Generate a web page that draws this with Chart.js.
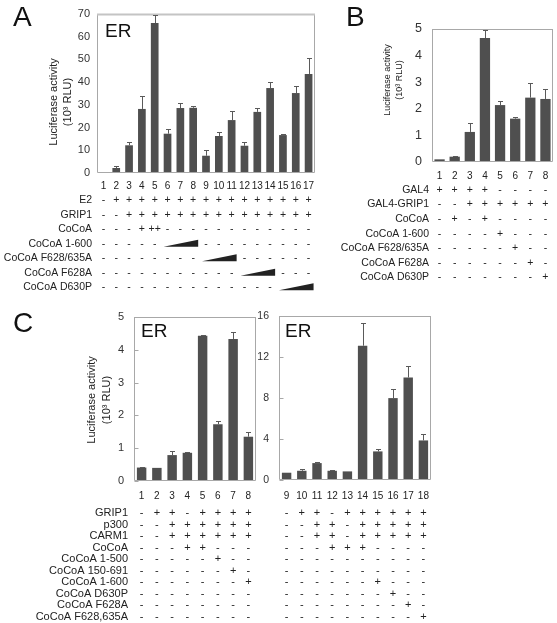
<!DOCTYPE html>
<html><head><meta charset="utf-8">
<script src="https://cdn.jsdelivr.net/npm/chart.js@4.4.1/dist/chart.umd.min.js"></script>
<style>
html,body{margin:0;padding:0;background:#fff;}
#wrap{position:relative;width:557px;height:623px;overflow:hidden;background:#fff;}
canvas{position:absolute;left:0;top:0;width:557px;height:623px;}
</style></head><body>
<div id="wrap">
<canvas id="cA" width="557" height="623"></canvas>
<canvas id="cB" width="557" height="623"></canvas>
<canvas id="cC1" width="557" height="623"></canvas>
<canvas id="cC2" width="557" height="623"></canvas>
</div>
<script>
// ---------- Panel A data ----------
const aCategories = ['1','2','3','4','5','6','7','8','9','10','11','12','13','14','15','16','17'];
const aValues = [0.3, 2.2, 12.2, 28.2, 66.0, 17.3, 28.6, 28.7, 7.6, 16.3, 23.3, 12.0, 26.9, 37.4, 16.7, 35.2, 43.6];
const aErrors = [0, 0.8, 1.6, 5.5, 3.5, 2.2, 2.4, 0.7, 2.5, 1.9, 4.0, 1.8, 1.9, 2.7, 0.3, 3.0, 7.0];
const aTicks = [0, 10, 20, 30, 40, 50, 60, 70];
const aRowLabels = ['E2', 'GRIP1', 'CoCoA', 'CoCoA 1-600', 'CoCoA F628/635A', 'CoCoA F628A', 'CoCoA D630P'];
const aRows = [
  '- + + + + + + + + + + + + + + + +',
  '- - + + + + + + + + + + + + + + +',
  '- - - + ++ - - - - - - - - - - - -',
  '- - - - - > > > - - - - - - - - -',
  '- - - - - - - - > > > - - - - - -',
  '- - - - - - - - - - - > > > - - -',
  '- - - - - - - - - - - - - - > > >'
];

// ---------- Panel B data ----------
const bCategories = ['1','2','3','4','5','6','7','8'];
const bValues = [0.1, 0.2, 1.13, 4.66, 2.14, 1.63, 2.42, 2.37];
const bErrors = [0, 0.04, 0.34, 0.31, 0.15, 0.06, 0.55, 0.37];
const bTicks = [0, 1, 2, 3, 4, 5];
const bRowLabels = ['GAL4', 'GAL4-GRIP1', 'CoCoA', 'CoCoA 1-600', 'CoCoA F628/635A', 'CoCoA F628A', 'CoCoA D630P'];
const bRows = [
  '+ + + + - - - -',
  '- - + + + + + +',
  '- + - + - - - -',
  '- - - - + - - -',
  '- - - - - + - -',
  '- - - - - - + -',
  '- - - - - - - +'
];

// ---------- Panel C data ----------
const cLeftCategories = ['1','2','3','4','5','6','7','8'];
const cLeftValues = [0.41, 0.40, 0.79, 0.86, 4.43, 1.73, 4.33, 1.35];
const cLeftErrors = [0.01, 0, 0.12, 0.02, 0.02, 0.10, 0.22, 0.13];
const cLeftTicks = [0, 1, 2, 3, 4, 5];
const cRightCategories = ['9','10','11','12','13','14','15','16','17','18'];
const cRightValues = [0.71, 0.90, 1.65, 0.90, 0.84, 13.1, 2.79, 7.99, 10.0, 3.86];
const cRightErrors = [0, 0.2, 0.13, 0.1, 0, 2.2, 0.26, 0.91, 1.14, 0.62];
const cRightTicks = [0, 4, 8, 12, 16];
const cRowLabels = ['GRIP1', 'p300', 'CARM1', 'CoCoA', 'CoCoA 1-500', 'CoCoA 150-691', 'CoCoA 1-600', 'CoCoA D630P', 'CoCoA F628A', 'CoCoA F628,635A'];
const cLeftRows = [
  '- + + - + + + +',
  '- - + + + + + +',
  '- - + + + + + +',
  '- - - + + - - -',
  '- - - - - + - -',
  '- - - - - - + -',
  '- - - - - - - +',
  '- - - - - - - -',
  '- - - - - - - -',
  '- - - - - - - -'
];
const cRightRows = [
  '- + + - + + + + + +',
  '- - + + - + + + + +',
  '- - + + - + + + + +',
  '- - - + + + - - - -',
  '- - - - - - - - - -',
  '- - - - - - - - - -',
  '- - - - - - + - - -',
  '- - - - - - - + - -',
  '- - - - - - - - + -',
  '- - - - - - - - - +'
];

const yTitle = ['Luciferase activity', '(10³ RLU)'];

Chart.defaults.font.family = "'Liberation Sans', Arial, sans-serif";
Chart.defaults.color = '#222';

const BAR = '#4f4f4f';
const W = 557, H = 623;

function decor(name, cfg) {
  return {
    id: 'decor_' + name,
    afterDatasetsDraw(chart) {
      const ctx = chart.ctx, ca = chart.chartArea;
      const xs = chart.scales.x, ys = chart.scales.y;
      ctx.save();
      // frame
      const L = Math.round(ca.left) + 0.5, R = Math.round(ca.right) - 0.5;
      const T = Math.round(ca.top) + 0.5, B = Math.round(ca.bottom) - 0.5;
      ctx.strokeStyle = '#a8a8a8';
      ctx.lineWidth = 1;
      ctx.beginPath();
      ctx.moveTo(L, T); ctx.lineTo(L, B); ctx.lineTo(R, B);
      if (cfg.right) { ctx.moveTo(R, B); ctx.lineTo(R, T); }
      ctx.stroke();
      ctx.strokeStyle = cfg.topColor || '#a8a8a8';
      ctx.lineWidth = cfg.topWidth || 1;
      ctx.beginPath(); ctx.moveTo(L - 0.5, T); ctx.lineTo(R + 0.5, T); ctx.stroke();
      // inner tick marks
      if (cfg.innerTicks) {
        ctx.strokeStyle = '#a8a8a8'; ctx.lineWidth = 1;
        ys.ticks.forEach(t => {
          const y = Math.round(ys.getPixelForValue(t.value)) + 0.5;
          ctx.beginPath(); ctx.moveTo(L, y); ctx.lineTo(L + 4, y); ctx.stroke();
        });
      }
      // error bars
      const meta = chart.getDatasetMeta(0);
      const vals = chart.data.datasets[0].data;
      ctx.strokeStyle = '#5a5a5a'; ctx.lineWidth = 1;
      cfg.errors.forEach((e, i) => {
        if (!e) return;
        const bar = meta.data[i];
        const x = Math.round(bar.x) + 0.5;
        const yt = Math.round(ys.getPixelForValue(vals[i] + e)) + 0.5;
        ctx.beginPath();
        ctx.moveTo(x, bar.y); ctx.lineTo(x, yt);
        ctx.moveTo(x - 2.5, yt); ctx.lineTo(x + 2.5, yt);
        ctx.stroke();
      });
      // y title
      if (cfg.yTitle) {
        const t = cfg.yTitle;
        ctx.fillStyle = '#222';
        ctx.font = t.size + "px 'Liberation Sans', Arial, sans-serif";
        ctx.textAlign = 'center'; ctx.textBaseline = 'middle';
        t.lines.forEach((s, k) => {
          ctx.save();
          ctx.translate(t.x[k], t.y);
          ctx.rotate(-Math.PI / 2);
          ctx.fillText(s, 0, 0);
          ctx.restore();
        });
      }
      // panel letter
      if (cfg.letter) {
        ctx.fillStyle = '#111';
        ctx.font = "28px 'Liberation Sans', Arial, sans-serif";
        ctx.textAlign = 'left'; ctx.textBaseline = 'alphabetic';
        ctx.fillText(cfg.letter.text, cfg.letter.x, cfg.letter.y);
      }
      if (cfg.er) {
        ctx.fillStyle = '#111';
        ctx.font = "19px 'Liberation Sans', Arial, sans-serif";
        ctx.textAlign = 'left'; ctx.textBaseline = 'alphabetic';
        ctx.fillText('ER', cfg.er.x, cfg.er.y);
      }
      // table
      if (cfg.table) {
        const tb = cfg.table;
        ctx.fillStyle = '#222';
        ctx.font = tb.size + "px 'Liberation Sans', Arial, sans-serif";
        ctx.textBaseline = 'middle';
        tb.rows.forEach((rowStr, r) => {
          const y = tb.y0 + tb.step * r;
          if (tb.labels) {
            ctx.textAlign = 'right';
            ctx.fillText(tb.labels[r], tb.labelX, y);
          }
          const cells = rowStr.split(' ');
          ctx.textAlign = 'center';
          let j = 0;
          while (j < cells.length) {
            if (cells[j] === '>') {
              let k = j;
              while (k + 1 < cells.length && cells[k + 1] === '>') k++;
              const x0 = xs.getPixelForValue(j) - 4, x1 = xs.getPixelForValue(k) + 5;
              const yb = y + 3;
              ctx.beginPath();
              ctx.moveTo(x0, yb); ctx.lineTo(x1, yb); ctx.lineTo(x1, yb - 7); ctx.closePath();
              ctx.fill();
              j = k + 1;
            } else {
              ctx.fillText(cells[j], xs.getPixelForValue(j), y);
              j++;
            }
          }
        });
      }
      ctx.restore();
    }
  };
}

function makeChart(id, g, labels, values, yMin, yMax, yStep, yFont, yPad, xPad, barPct, deco) {
  const xH = 20;
  return new Chart(document.getElementById(id), {
    type: 'bar',
    data: { labels: labels, datasets: [{ data: values, backgroundColor: BAR, borderWidth: 0, barPercentage: barPct, categoryPercentage: 1 }] },
    options: {
      responsive: false, animation: false, devicePixelRatio: 1,
      layout: { padding: { left: 0, top: g.top, right: W - g.right, bottom: H - g.bottom - xH } },
      plugins: { legend: { display: false }, tooltip: { enabled: false } },
      scales: {
        x: {
          offset: true,
          grid: { display: false, drawTicks: false },
          border: { display: false },
          ticks: { autoSkip: false, maxRotation: 0, minRotation: 0, padding: xPad, font: { size: 10 }, color: '#222' },
          afterFit: s => { s.height = xH; }
        },
        y: {
          min: yMin, max: yMax,
          grid: { display: false, drawTicks: false },
          border: { display: false },
          ticks: { stepSize: yStep, padding: yPad, font: { size: yFont }, color: '#333' },
          afterFit: s => { s.width = g.left; }
        }
      }
    },
    plugins: [deco]
  });
}

// Panel A
makeChart('cA', { left: 97, right: 315, top: 14, bottom: 173 }, aCategories, aValues,
  aTicks[0], aTicks[aTicks.length - 1], aTicks[1] - aTicks[0], 11, 7, 7, 0.6,
  decor('A', {
    errors: aErrors, right: true, topWidth: 2, topColor: '#c4c4c4',
    yTitle: { lines: yTitle, x: [54, 67.5], y: 102, size: 11 },
    letter: { text: 'A', x: 13, y: 26 }, er: { x: 105, y: 37 },
    table: { labels: aRowLabels, rows: aRows, labelX: 92, y0: 200.5, step: 14.45, size: 10.5 }
  }));

// Panel B
makeChart('cB', { left: 432, right: 553, top: 29, bottom: 162 }, bCategories, bValues,
  bTicks[0], bTicks[bTicks.length - 1], bTicks[1] - bTicks[0], 12.5, 10, 8.5, 0.68,
  decor('B', {
    errors: bErrors, right: true,
    yTitle: { lines: yTitle, x: [388, 400], y: 80, size: 9 },
    letter: { text: 'B', x: 346, y: 26 },
    table: { labels: bRowLabels, rows: bRows, labelX: 429, y0: 190, step: 14.55, size: 10.5 }
  }));

// Panel C left
makeChart('cC1', { left: 134, right: 256, top: 317, bottom: 481 }, cLeftCategories, cLeftValues,
  cLeftTicks[0], cLeftTicks[cLeftTicks.length - 1], cLeftTicks[1] - cLeftTicks[0], 11, 10, 9, 0.62,
  decor('C1', {
    errors: cLeftErrors, right: true, innerTicks: true,
    yTitle: { lines: yTitle, x: [92, 106.5], y: 400, size: 11 },
    letter: { text: 'C', x: 13, y: 332 }, er: { x: 141, y: 337 },
    table: { labels: cRowLabels, rows: cLeftRows, labelX: 128, y0: 513.3, step: 11.5, size: 11 }
  }));

// Panel C right
makeChart('cC2', { left: 279, right: 431, top: 316, bottom: 480 }, cRightCategories, cRightValues,
  cRightTicks[0], cRightTicks[cRightTicks.length - 1], cRightTicks[1] - cRightTicks[0], 10.5, 10, 10, 0.62,
  decor('C2', {
    errors: cRightErrors, right: true, innerTicks: true,
    er: { x: 285, y: 337 },
    table: { labels: null, rows: cRightRows, labelX: 0, y0: 513.3, step: 11.5, size: 11 }
  }));
</script>
</body></html>
